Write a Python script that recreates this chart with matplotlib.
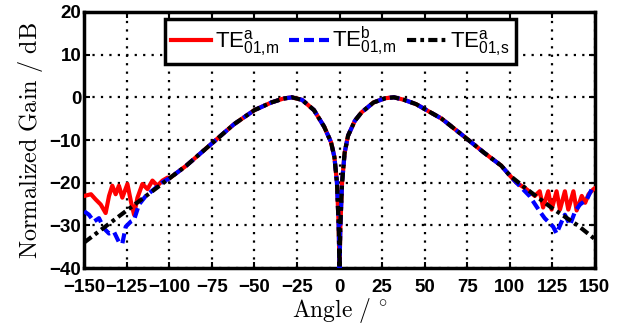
import numpy as np
import matplotlib
matplotlib.use("Agg")
import matplotlib.pyplot as plt
from matplotlib.font_manager import FontProperties

plt.rcParams['mathtext.fontset'] = 'custom'
plt.rcParams['mathtext.rm'] = 'Liberation Sans'
plt.rcParams['mathtext.it'] = 'Liberation Sans:italic'
plt.rcParams['mathtext.bf'] = 'Liberation Sans:bold'

# ---- data ----
# main lobe shared by all three curves (they overlap there)
main_angle = [-100, -90, -75, -62, -50, -40, -33, -28, -22, -15, -9, -5, -3, -1.5, -0.5, 0,
              0.5, 1.5, 3, 5, 9, 13, 20, 27, 32, 38, 45, 52, 60, 72, 85, 95, 100]
main_db = [-19, -16.0, -10.8, -6.3, -3.0, -1.2, -0.3, 0.0, -0.6, -3.0, -6.9, -10.5, -14, -20, -30, -40,
           -30, -20, -13, -9, -5.5, -3.5, -1.2, -0.2, 0.0, -0.6, -1.6, -3.2, -5.0, -8.8, -13.0, -16.0, -18.3]

# TE01,m (a) measured - red
red_left_angle = [-150, -146, -143.3, -140.3, -137.4, -135.4, -133.5, -131.5, -129.6, -127.6, -124.6,
                  -122.6, -120.7, -118.7, -115.8, -112.8, -109.9, -107, -104, -101]
red_left_db = [-23.1, -22.7, -23.9, -25.1, -27.1, -23.1, -20.7, -22.7, -20.7, -23.5, -20.3,
               -24.3, -27.5, -23.5, -20.3, -21.5, -19.5, -20.7, -19.5, -18.8]
red_right_angle = [104, 109.8, 114.7, 117.6, 119.6, 122.6, 124.6, 127.5, 129.5, 132.4, 134.4,
                   137.4, 139.3, 142.3, 144.3, 146.3, 149.2, 150]
red_right_db = [-20.0, -21.5, -23.1, -22.0, -25.8, -22.0, -26.3, -22.0, -26.3, -22.0, -26.3,
                -22.0, -26.5, -23.1, -24.7, -22.7, -21.5, -21.3]

# TE01,m (b) measured - blue
blue_left_angle = [-150, -147.2, -144.3, -141.3, -138.4, -135.4, -132.5, -129.6, -127.6, -125.6,
                   -122.6, -120.7, -117.8, -113.8, -108.9, -104, -101]
blue_left_db = [-26.7, -27.5, -29.1, -28.3, -30.7, -31.9, -31.5, -33.9, -34.3, -30.3,
                -29.1, -28.7, -25.1, -23.1, -21.5, -19.9, -19.2]
blue_right_angle = [103, 106.7, 111.6, 117.6, 120.5, 125.5, 127.5, 130.5, 132.4, 135.4, 138.4,
                    141.3, 145.3, 148.2, 150]
blue_right_db = [-19.6, -21.1, -23.1, -26.7, -28.3, -30.3, -31.9, -29.1, -27.5, -29.9, -26.7,
                 -25.1, -23.9, -21.5, -21.0]

# TE01,s (a) simulated - black
black_left_angle = [-150, -125, -101]
black_left_db = [-34.0, -26.5, -19.3]
black_right_angle = [110, 125, 140, 150]
black_right_db = [-21.5, -26.0, -30.0, -33.2]

labels = [r'TE$^{\mathrm{a}}_{\mathrm{01{,}m}}$', r'TE$^{\mathrm{b}}_{\mathrm{01{,}m}}$',
          r'TE$^{\mathrm{a}}_{\mathrm{01{,}s}}$']
xticks = [-150, -125, -100, -75, -50, -25, 0, 25, 50, 75, 100, 125, 150]
yticks = [-40, -30, -20, -10, 0, 10, 20]


def build(la, ld, ra, rd):
    return (np.array(la + main_angle + ra), np.array(ld + main_db + rd))


red_x, red_y = build(red_left_angle, red_left_db, red_right_angle, red_right_db)
blue_x, blue_y = build(blue_left_angle, blue_left_db, blue_right_angle, blue_right_db)
black_x, black_y = build(black_left_angle, black_left_db, black_right_angle, black_right_db)

fig = plt.figure(figsize=(6.19, 3.31), dpi=100)
ax = fig.add_axes([0.136, 0.19, 0.825, 0.774])

lw = 3.0
ax.plot(red_x, red_y, color='#ff0000', lw=lw, label=labels[0], zorder=3,
        solid_joinstyle='round')
ax.plot(blue_x, blue_y, color='#0000ff', lw=lw, dashes=(2.4, 1.2), label=labels[1], zorder=4)
ax.plot(black_x, black_y, color='black', lw=lw, dashes=(2.2, 1.0, 0.9, 1.0), label=labels[2], zorder=5)

ax.set_xlim(-150, 150)
ax.set_ylim(-40, 20)
ax.set_xticks(xticks)
ax.set_yticks(yticks)
ax.grid(True, color='black', lw=1.6, linestyle=(0, (1, 2.8)))
ax.set_axisbelow(True)

for s in ax.spines.values():
    s.set_linewidth(2.5)
ax.tick_params(direction='in', length=4, width=1.5, top=True, right=True)
ax.tick_params(axis='x', pad=8)
ax.tick_params(axis='y', pad=2)
tf = FontProperties(family='Liberation Sans', weight='bold', size=13.5)
for t in ax.get_xticklabels() + ax.get_yticklabels():
    t.set_fontproperties(tf)

ax.set_xlabel(r'$\mathrm{Angle\ /\ }^{\circ}$', fontsize=17, math_fontfamily='cm', labelpad=0)
ax.set_ylabel(r'$\mathrm{Normalized\ Gain\ /\ dB}$', fontsize=17.5, math_fontfamily='cm', labelpad=3)

leg = ax.legend(loc='upper center', bbox_to_anchor=(0.502, 0.973), ncol=3,
                prop=FontProperties(family='Liberation Sans', size=16),
                handlelength=1.8, handletextpad=0.15, columnspacing=0.45,
                borderpad=0.28, borderaxespad=0.0, fancybox=False, framealpha=1,
                edgecolor='black')
leg.get_frame().set_linewidth(2.5)

fig.savefig('out.png', dpi=100)
